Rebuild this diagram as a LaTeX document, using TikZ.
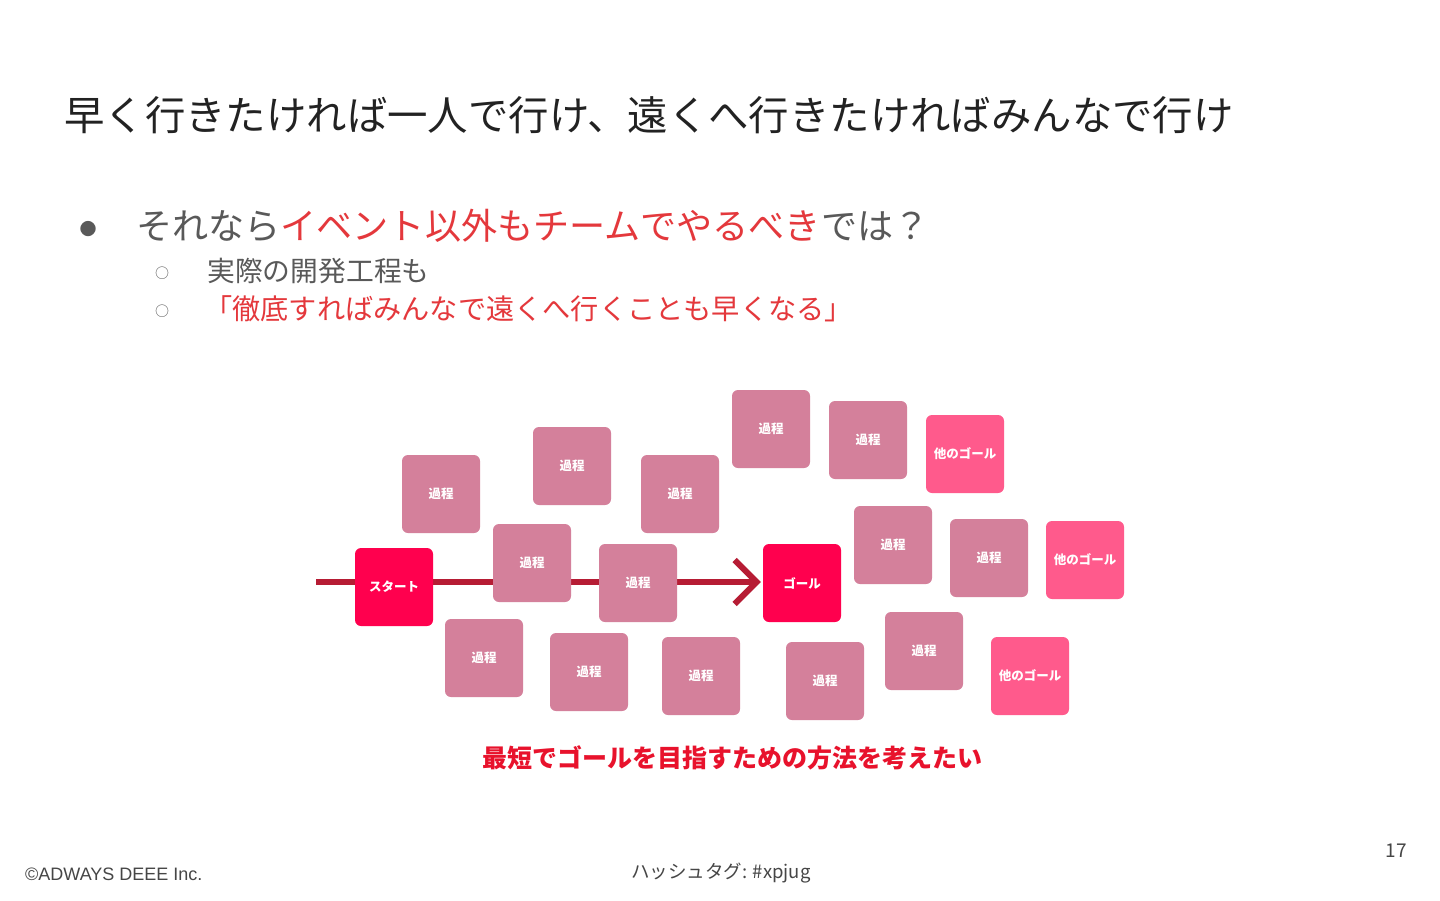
\documentclass[tikz,border=0pt]{standalone}
\usepackage{fontspec}
\setmainfont{Noto Sans CJK JP}
\newfontfamily\latinfoot{Liberation Sans}
\usetikzlibrary{arrows.meta,backgrounds}
\definecolor{boxpink}{RGB}{212,128,155}
\definecolor{hotpink}{RGB}{255,0,78}
\definecolor{othergoal}{RGB}{255,90,140}
\definecolor{arrowred}{RGB}{182,28,52}
\definecolor{titledark}{RGB}{34,34,34}
\definecolor{bodygray}{RGB}{89,89,89}
\definecolor{bodyred}{RGB}{228,56,60}
\definecolor{captionred}{RGB}{232,18,44}
\definecolor{footgray}{RGB}{70,70,70}
\tikzset{
  card/.style={rounded corners=6pt, minimum width=78pt, minimum height=78pt, inner sep=0pt,
    text=white, font=\fontsize{12.5}{14}\selectfont\bfseries},
  proc/.style={card, fill=boxpink},
  keybox/.style={card, fill=hotpink},
  other/.style={card, fill=othergoal},
  flow/.style={draw=arrowred, line width=6pt, -{Straight Barb[length=22pt,width=44pt]}},
  txt/.style={inner sep=0pt, anchor=west},
}
\begin{document}
\begin{tikzpicture}[x=1pt,y=-1pt]
\useasboundingbox (0,0) rectangle (1440,900);
% title
\node[txt, text=titledark, font=\fontsize{40.4}{48}\selectfont] (title) at (64,115) {早く行きたければ一人で行け、遠くへ行きたければみんなで行け};
% bullets
\node[inner sep=0pt, text=bodygray, font=\fontsize{17}{20}\selectfont] (b1) at (88,229) {●};
\node[txt, font=\fontsize{36.1}{42}\selectfont] (t1) at (136,226) {\textcolor{bodygray}{それなら}\textcolor{bodyred}{イベント以外もチームでやるべき}\textcolor{bodygray}{では？}};
\node[inner sep=0pt, text=bodygray, font=\fontsize{14}{16}\selectfont] (b2) at (162,273) {○};
\node[txt, text=bodygray, font=\fontsize{27.8}{32}\selectfont] (t2) at (207,271) {実際の開発工程も};
\node[inner sep=0pt, text=bodygray, font=\fontsize{14}{16}\selectfont] (b3) at (162,311) {○};
\node[txt, text=bodyred, font=\fontsize{28.2}{32}\selectfont] (t3) at (204,309) {「徹底すればみんなで遠くへ行くことも早くなる」};
% cards
\node[keybox] (start) at (394,587) {スタート};
\node[keybox] (goal) at (802,583) {ゴール};
\node[proc] (p1) at (441,494) {過程};
\node[proc] (p2) at (572,466) {過程};
\node[proc] (p3) at (680,494) {過程};
\node[proc] (p4) at (771,429) {過程};
\node[proc] (p5) at (868,440) {過程};
\node[other] (o1) at (965,454) {他のゴール};
\node[proc] (p6) at (532,563) {過程};
\node[proc] (p7) at (638,583) {過程};
\node[proc] (p8) at (893,545) {過程};
\node[proc] (p9) at (989,558) {過程};
\node[other] (o2) at (1085,560) {他のゴール};
\node[proc] (p10) at (484,658) {過程};
\node[proc] (p11) at (589,672) {過程};
\node[proc] (p12) at (701,676) {過程};
\node[proc] (p13) at (825,681) {過程};
\node[proc] (p14) at (924,651) {過程};
\node[other] (o3) at (1030,676) {他のゴール};
\coordinate (tail) at (316,582);
\begin{scope}[on background layer]
\fill[white] (0,0) rectangle (1440,900);
\draw[flow, shorten >=2pt] (tail) -- (tail -| goal.west);
\end{scope}
% caption
\node[inner sep=0pt, text=captionred, font=\fontsize{25}{30}\selectfont\bfseries] (cap) at (732,758) {最短でゴールを目指すための方法を考えたい};
% footer
\node[txt, text=footgray, font=\latinfoot\fontsize{18}{21}\selectfont] (copy) at (25,874) {©ADWAYS DEEE Inc.};
\node[txt, text=footgray, font=\fontsize{18.5}{22}\selectfont] (tag) at (631,873) {ハッシュタグ: \#xpjug};
\node[inner sep=0pt, text=footgray, font=\fontsize{19}{22}\selectfont] (page) at (1396,851) {17};
\end{tikzpicture}
\end{document}
